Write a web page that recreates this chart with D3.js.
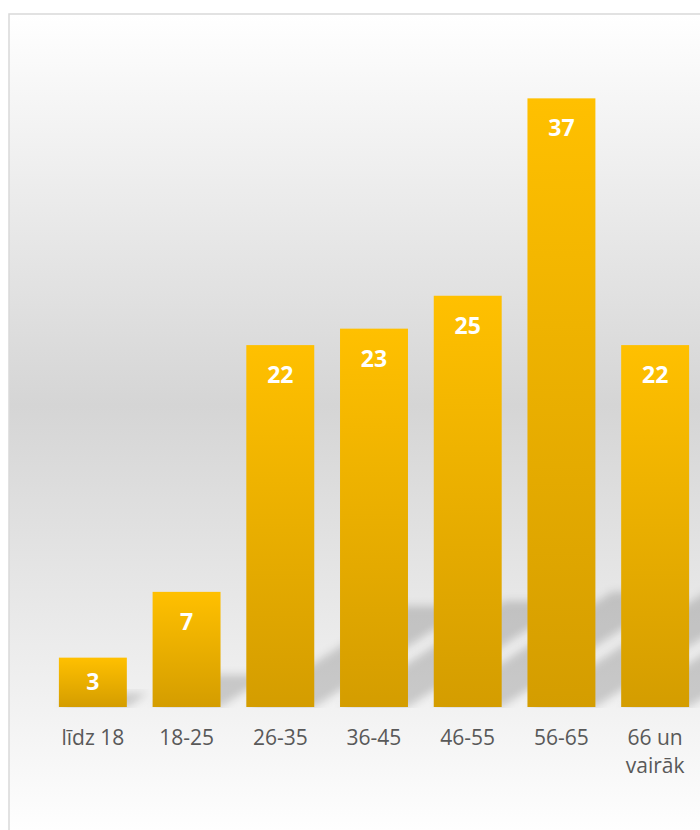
<!DOCTYPE html>
<meta charset="utf-8">
<script src="https://d3js.org/d3.v7.min.js"></script>
<style>
body { margin: 0; background: #fff; }
text { font-family: "Open Sans", sans-serif; }
.cat { fill: #595959; font-size: 21px; }
.val { fill: #fff; font-size: 23px; font-weight: bold; }
</style>
<body>
<script>
// chart data
var categories = ["līdz 18", "18-25", "26-35", "36-45", "46-55", "56-65", "66 un vairāk"];
var values = [3, 7, 22, 23, 25, 37, 22];

var width = 700,
    height = 830,
    base = 707;

var svg = d3.select("body").append("svg")
    .attr("width", width)
    .attr("height", height);

var defs = svg.append("defs");

// chart area background, white -> gray -> white
var bg = defs.append("linearGradient").attr("id", "bg")
    .attr("gradientUnits", "userSpaceOnUse")
    .attr("x1", 0).attr("y1", 14).attr("x2", 0).attr("y2", 830);
bg.append("stop").attr("offset", 0).attr("stop-color", "#ffffff");
bg.append("stop").attr("offset", 0.48).attr("stop-color", "#d5d5d5");
bg.append("stop").attr("offset", 0.84).attr("stop-color", "#f1f1f1");
bg.append("stop").attr("offset", 1).attr("stop-color", "#fefefe");

var bar = defs.append("linearGradient").attr("id", "bar")
    .attr("x1", 0).attr("y1", 0).attr("x2", 0).attr("y2", 1);
bar.append("stop").attr("offset", 0).attr("stop-color", "#ffc000");
bar.append("stop").attr("offset", 1).attr("stop-color", "#d49d00");

defs.append("filter").attr("id", "blur")
    .attr("x", "-30%").attr("y", "-30%").attr("width", "160%").attr("height", "160%")
  .append("feGaussianBlur").attr("stdDeviation", 4);

defs.append("clipPath").attr("id", "floor")
  .append("rect").attr("x", 0).attr("y", 0).attr("width", width).attr("height", base + 1);

svg.append("rect")
    .attr("x", 9).attr("y", 14)
    .attr("width", width).attr("height", height)
    .attr("fill", "url(#bg)")
    .attr("stroke", "#d9d9d9")
    .attr("stroke-width", 1.5);

var x = d3.scaleBand()
    .domain(categories)
    .range([46, 702])
    .paddingInner(0.275)
    .paddingOuter(0.1375);

var y = d3.scaleLinear()
    .domain([0, 40])
    .range([base, 49]);

var data = categories.map(function(c, i) { return {cat: c, value: values[i]}; });

// perspective shadows on the floor
svg.append("g")
    .attr("clip-path", "url(#floor)")
  .selectAll("path")
    .data(data)
    .enter()
    .append("path")
    .attr("d", function(d) {
        var x0 = x(d.cat), x1 = x0 + x.bandwidth();
        var dy = (base - y(d.value)) * 0.28, dx = dy * 1.55;
        return "M" + x0 + "," + base + "L" + x1 + "," + base +
            "L" + (x1 + dx) + "," + (base - dy) + "L" + (x0 + dx) + "," + (base - dy) + "Z";
    })
    .attr("fill", "#000")
    .attr("fill-opacity", 0.17)
    .attr("filter", "url(#blur)");

svg.append("g").selectAll("rect")
    .data(data)
    .enter()
    .append("rect")
    .attr("x", function(d) { return x(d.cat); })
    .attr("y", function(d) { return y(d.value); })
    .attr("width", x.bandwidth())
    .attr("height", function(d) { return base - y(d.value); })
    .attr("fill", "url(#bar)");

// labels inside the bar end, centred when the bar is short
svg.append("g").selectAll("text")
    .data(data)
    .enter()
    .append("text")
    .attr("class", "val")
    .attr("text-anchor", "middle")
    .attr("x", function(d) { return x(d.cat) + x.bandwidth() / 2; })
    .attr("y", function(d) {
        var h = base - y(d.value);
        return h < 70 ? y(d.value) + h / 2 + 8 : y(d.value) + 38;
    })
    .text(function(d) { return d.value; });

var cats = svg.append("g").selectAll("text")
    .data(data)
    .enter()
    .append("text")
    .attr("class", "cat")
    .attr("text-anchor", "middle")
    .attr("x", function(d) { return x(d.cat) + x.bandwidth() / 2; })
    .attr("y", 745);

// "66 un vairāk" wraps onto two lines
cats.each(function(d) {
    var t = d3.select(this);
    var words = d.cat.split(" ");
    var lines = words.length > 2 ? [words.slice(0, 2).join(" "), words.slice(2).join(" ")] : [d.cat];
    lines.forEach(function(l, i) {
        t.append("tspan")
            .attr("x", x(d.cat) + x.bandwidth() / 2)
            .attr("dy", i ? 28 : 0)
            .text(l);
    });
});
</script>
</body>
